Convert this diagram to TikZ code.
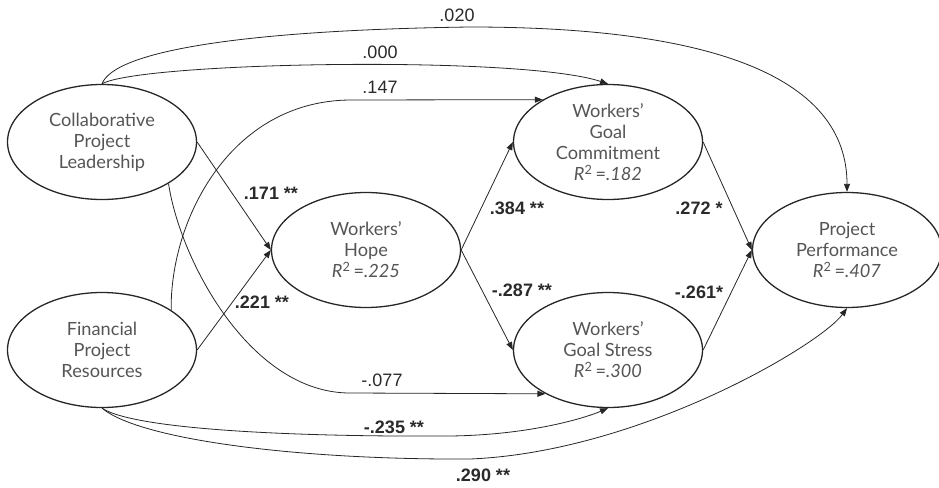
\documentclass[tikz,border=0pt]{standalone}
\usepackage{fontspec}
\setmainfont{Lato}
\newfontfamily\labfont{Liberation Sans}
\usetikzlibrary{shapes.geometric,arrows.meta}
\definecolor{nodetext}{HTML}{555555}
\definecolor{linecol}{HTML}{262626}
\definecolor{labcol}{HTML}{2A2A2A}
\begin{document}
\begin{tikzpicture}[x=1pt,y=-1pt,
  latent/.style={ellipse,draw=linecol,line width=1.3pt,minimum width=189pt,minimum height=115pt,inner sep=0pt,
    align=center,text=nodetext,font=\fontsize{18.2}{21}\selectfont},
  path/.style={draw=linecol,line width=0.8pt,-{Triangle[length=8pt,width=6pt]}},
  lab/.style={font=\labfont\fontsize{18}{20}\selectfont,text=labcol,inner sep=0pt},
  blab/.style={font=\labfont\bfseries\fontsize{18}{20}\selectfont,text=labcol,inner sep=0pt}]
\useasboundingbox (0,0) rectangle (939,487);
\begin{scope}
\clip (0,0) rectangle (939,487);
\node[latent] (cpl) at (102,142) {Collaborative\\Project\\Leadership};
\node[latent] (fpr) at (102,350) {Financial\\Project\\Resources};
\node[latent] (hope) at (366,250) {Workers'\\Hope\\\textit{R}\textsuperscript{2}\,=\textit{.225}};
\node[latent] (com) at (608,142) {Workers'\\Goal\\Commitment\\\textit{R}\textsuperscript{2}\,=\textit{.182}};
\node[latent] (str) at (608,350) {Workers'\\Goal Stress\\\textit{R}\textsuperscript{2}\,=\textit{.300}};
\node[latent] (perf) at (847,250) {Project\\Performance\\\textit{R}\textsuperscript{2}\,=\textit{.407}};
\end{scope}
% straight paths
\draw[path] (cpl.east) -- (hope.west);
\draw[path] (fpr.east) -- (hope.west);
\draw[path] (hope.east) -- (com.west);
\draw[path] (hope.east) -- (str.west);
\draw[path] (com.east) -- (perf.west);
\draw[path] (str.east) -- (perf.west);
% curved paths
\draw[path] (cpl.north) .. controls (115,50) and (250,30) .. (470,27)
  .. controls (720,27) and (847,80) .. (perf.north);
\draw[path] (cpl.north) .. controls (140,62) and (520,55) .. (com.north);
\draw[path] (fpr.30) .. controls (170,220) and (230,101) .. (350,100) -- (com.147);
\draw[path] (cpl.-32) .. controls (180,260) and (250,393) .. (350,393) -- (str.215);
\draw[path] (fpr.south) .. controls (135,430) and (300,437) .. (450,436)
  .. controls (530,435) and (585,418) .. (str.south);
\draw[path] (fpr.south) .. controls (140,440) and (300,460) .. (470,459)
  .. controls (640,452) and (820,345) .. (perf.south);
% labels
\node[lab] (l1) at (457,15) {.020};
\node[lab] (l2) at (380,52) {.000};
\node[lab] (l3) at (380,87) {.147};
\node[blab] (l4) at (271,193) {.171 **};
\node[blab] (l5) at (262,302) {.221 **};
\node[blab] (l6) at (517,208) {.384 **};
\node[blab] (l7) at (522,290) {-.287 **};
\node[blab] (l8) at (699,208) {.272 *};
\node[blab] (l9) at (699,292) {-.261*};
\node[lab] (l10) at (382,380) {-.077};
\node[blab] (l11) at (394,427) {-.235 **};
\node[blab] (l12) at (483,475) {.290 **};
\end{tikzpicture}
\end{document}
